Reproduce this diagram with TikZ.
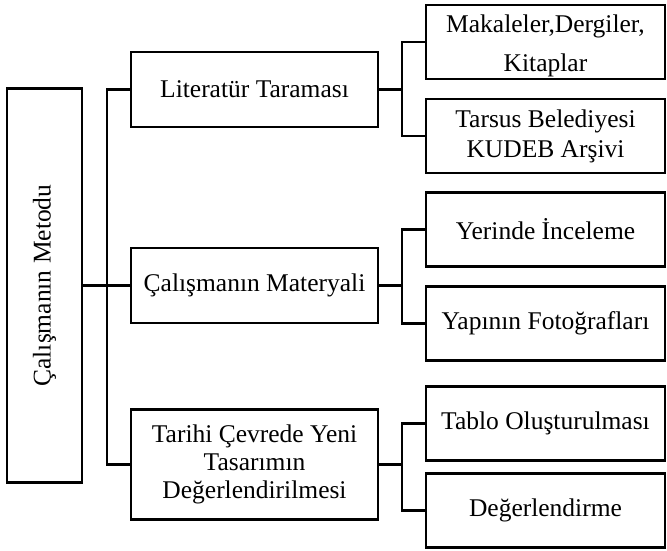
\documentclass[tikz,border=0pt]{standalone}
\usepackage{fontspec}
\setmainfont{Liberation Serif}
\begin{document}
\begin{tikzpicture}[x=1pt,y=-1pt,
  txt/.style={inner sep=0pt,align=center,font=\fontsize{25.5}{28}\selectfont},
  box/.style={txt,draw=black,line width=2.3pt},
  rootbox/.style={box,minimum width=75pt,minimum height=394pt},
  midbox/.style={box,minimum width=247pt},
  leafbox/.style={box,minimum width=239pt,minimum height=74pt},
  conn/.style={line width=2.3pt}]
\useasboundingbox (0,0) rectangle (667,551);
% root
\node[rootbox] (root) at (44.5,285.5) {};
\node[txt,rotate=90] (roottxt) at (root.center) {Çalışmanın Metodu};
% middle
\node[midbox,minimum height=75pt] (lit) at (254.5,89.5) {Literatür Taraması};
\node[midbox,minimum height=75pt] (mat) at (254.5,285.5) {Çalışmanın Materyali};
\node[midbox,minimum height=110pt] (tar) at (254.5,464.5) {Tarihi Çevrede Yeni\\Tasarımın\\Değerlendirilmesi};
% leaves
\node[leafbox] (l1) at (545.5,42) {};
\node[txt] (l1txt) at ([yshift=-3.5pt]l1.center) {Makaleler,Dergiler,\\[11pt]Kitaplar};
\node[leafbox] (l2) at (545.5,136) {Tarsus Belediyesi\\[2pt]KUDEB Arşivi};
\node[leafbox] (l3) at (545.5,229.5) {Yerinde İnceleme};
\node[leafbox] (l4) at (545.5,323.5) {Yapının Fotoğrafları};
\node[leafbox] (l5) at (545.5,423.5) {Tablo Oluşturulması};
\node[leafbox] (l6) at (545.5,510.5) {Değerlendirme};
% branch coordinates
\coordinate (t0) at (107,285.5);
\coordinate (b1) at (402,89.5);
\coordinate (b2) at (402,285.5);
\coordinate (b3) at (402,464.5);
% root trunk
\draw[conn] (root.east) -- (t0);
\draw[conn] (lit.west) -| (t0) |- (tar.west);
\draw[conn] (t0) -- (mat.west);
% right branches
\draw[conn] (lit.east) -- (b1);
\draw[conn] (l1.west) -| (b1) |- (l2.west);
\draw[conn] (mat.east) -- (b2);
\draw[conn] (l3.west) -| (b2) |- (l4.west);
\draw[conn] (tar.east) -- (b3);
\draw[conn] (l5.west) -| (b3) |- (l6.west);
\end{tikzpicture}
\end{document}
